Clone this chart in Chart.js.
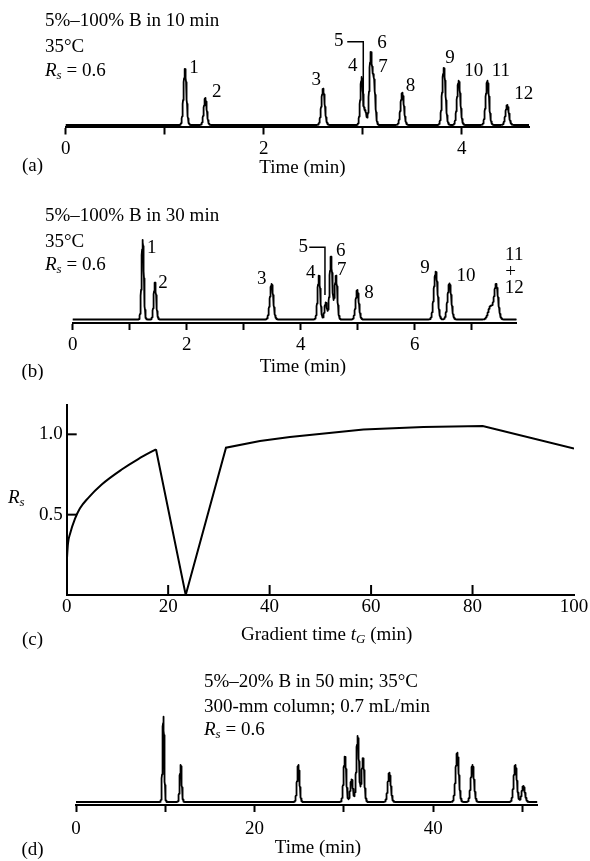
<!DOCTYPE html>
<html>
<head>
<meta charset="utf-8">
<script src="https://cdn.jsdelivr.net/npm/chart.js@4.4.1/dist/chart.umd.min.js"></script>
<style>
  body { margin: 0; background: #fff; width: 590px; height: 861px; position: relative; overflow: hidden; }
  .panel { position: absolute; left: 0; width: 590px; }
</style>
</head>
<body>
<div class="panel" style="top:0"><canvas id="chartA" width="590" height="190"></canvas></div>
<div class="panel" style="top:190px"><canvas id="chartB" width="590" height="190"></canvas></div>
<div class="panel" style="top:390px"><canvas id="chartC" width="590" height="265"></canvas></div>
<div class="panel" style="top:655px"><canvas id="chartD" width="590" height="206"></canvas></div>
<script>
// (a) 5-100% B in 10 min : peak number, retention time (min), height (signal), width sigma (min)
const peakNamesA   = ['1', '2', '3', '4', '5', '6', '7', '8', '9', '10', '11', '12'];
const peakTimesA   = [1.205, 1.41, 2.60, 2.99, 3.028, 3.081, 3.114, 3.40, 3.82, 3.97, 4.26, 4.46];
const peakHeightsA = [56, 27, 36.3, 48, 13, 70, 43, 32.3, 57, 44.3, 44.3, 20];
const peakWidthsA  = [0.015, 0.015, 0.017, 0.014, 0.012, 0.014, 0.014, 0.017, 0.017, 0.017, 0.017, 0.017];
const tickValuesA  = [0, 1, 2, 3, 4];
const tickLabelsA  = ['0', '', '2', '', '4'];

// (b) 5-100% B in 30 min
const peakTimesB   = [1.228, 1.444, 3.49, 4.321, 4.44, 4.532, 4.62, 4.993, 6.37, 6.61, 7.33, 7.43];
const peakHeightsB = [79.5, 36.8, 35.5, 43.8, 17, 62.8, 43.8, 29.5, 47.8, 36.2, 13, 35];
const peakWidthsB  = [0.02, 0.022, 0.03, 0.024, 0.022, 0.024, 0.024, 0.028, 0.033, 0.033, 0.04, 0.035];
const peakNamesB   = ['1', '2', '3', '4', '5', '6', '7', '8', '9', '10', '11', '+', '12'];
const tickValuesB  = [0, 1, 2, 3, 4, 5, 6, 7];
const tickLabelsB  = ['0', '', '2', '', '4', '', '6', ''];

// (c) resolution vs gradient time
const rsCurveTimes  = [0, 0.25, 0.65, 1.64, 2.62, 4.26, 6.9, 10.84, 14.1, 17.6];
const rsCurveValues = [0.2, 0.32, 0.38, 0.475, 0.54, 0.605, 0.688, 0.781, 0.846, 0.907];
const rsLineTimes   = [17.6, 23.46, 31.4, 38.1, 44.0, 58.5, 70.3, 82.0, 100];
const rsLineValues  = [0.907, 0, 0.917, 0.958, 0.983, 1.03, 1.045, 1.052, 0.911];
const rsXTickValues = [0, 20, 40, 60, 80, 100];
const rsXTickLabels = ['0', '20', '40', '60', '80', '100'];
const rsYTickValues = [0.5, 1.0];
const rsYTickLabels = ['0.5', '1.0'];

// (d) 5-20% B in 50 min, 300-mm column
const peakTimesD   = [9.79, 11.73, 24.9, 30.12, 30.87, 31.55, 32.14, 35.09, 42.7, 44.4, 49.2, 50.1];
const peakHeightsD = [85.3, 37, 37, 45.3, 22.7, 66, 43.7, 29.3, 49.3, 37, 37, 16];
const peakWidthsD  = [0.1, 0.11, 0.14, 0.15, 0.15, 0.15, 0.15, 0.17, 0.18, 0.18, 0.18, 0.18];
const tickValuesD  = [0, 10, 20, 30, 40, 50];
const tickLabelsD  = ['0', '', '20', '', '40', ''];

const FONT = '"Liberation Serif", "Times New Roman", serif';
const SIZE = 19, SUB = 13;
const rsParts = [{t: 'R', i: true}, {t: 's', i: true, sub: true}, {t: ' = 0.6'}];

function fontOf(p) {
  return (p.i ? 'italic ' : '') + (p.sub ? SUB : SIZE) + 'px ' + FONT;
}

// text made of plain / italic / subscript pieces
function drawRich(ctx, parts, x, y, align) {
  let w = 0;
  parts.forEach(p => { ctx.font = fontOf(p); w += ctx.measureText(p.t).width; });
  let cx = align === 'center' ? x - w / 2 : x;
  ctx.textAlign = 'left';
  ctx.textBaseline = 'middle';
  parts.forEach(p => {
    ctx.font = fontOf(p);
    ctx.fillText(p.t, cx, y + (p.sub ? 5 : 0));
    cx += ctx.measureText(p.t).width;
  });
}

// chromatogram = sum of the gaussian peaks of the table
function chromTrace(times, heights, widths, tMax, step) {
  const ts = [];
  for (let k = 0; k * step <= tMax; k++) ts.push(k * step);
  ts.push(tMax);
  times.forEach(t => ts.push(t));
  ts.sort((a, b) => a - b);
  return ts.map(t => {
    let s = 0;
    times.forEach((c, i) => {
      const d = (t - c) / widths[i];
      s += heights[i] * Math.exp(-0.5 * d * d);
    });
    return {x: t, y: s};
  });
}

function decor(spec) {
  return {
    id: 'decor',
    afterDraw(chart) {
      const ctx = chart.ctx, xs = chart.scales.x, ys = chart.scales.y;
      ctx.save();
      ctx.fillStyle = '#000';
      ctx.strokeStyle = '#000';
      (spec.texts || []).forEach(tx => drawRich(ctx, tx.parts, tx.x, tx.y, tx.align));
      if (spec.labels) {
        spec.labels.names.forEach((n, i) => {
          drawRich(ctx, [{t: n}], xs.getPixelForValue(spec.labels.times[i]), ys.getPixelForValue(spec.labels.levels[i]), 'center');
        });
      }
      if (spec.bracket) {
        ctx.lineWidth = 1.5;
        ctx.beginPath();
        spec.bracket.forEach((p, i) => {
          const px = xs.getPixelForValue(p[0]), py = ys.getPixelForValue(p[1]);
          if (i === 0) ctx.moveTo(px, py); else ctx.lineTo(px, py);
        });
        ctx.stroke();
      }
      if (spec.innerTicks) {
        ctx.lineWidth = 2;
        const a = chart.chartArea;
        spec.innerTicks.x.forEach(v => {
          const px = xs.getPixelForValue(v);
          ctx.beginPath(); ctx.moveTo(px, a.bottom); ctx.lineTo(px, a.bottom - 10); ctx.stroke();
        });
        spec.innerTicks.y.forEach(v => {
          const py = ys.getPixelForValue(v);
          ctx.beginPath(); ctx.moveTo(a.left, py); ctx.lineTo(a.left + 10, py); ctx.stroke();
        });
      }
      ctx.restore();
    }
  };
}

function chromChart(id, o) {
  return new Chart(document.getElementById(id), {
    type: 'line',
    data: {
      datasets: [{
        data: chromTrace(o.times, o.heights, o.widths, o.xMax, o.step),
        borderColor: '#000', borderWidth: 1.8, borderJoinStyle: 'round', borderCapStyle: 'round',
        pointRadius: 0, tension: 0, fill: false
      }]
    },
    options: {
      responsive: false, animation: false, events: [],
      layout: {padding: o.pad},
      plugins: {legend: {display: false}, tooltip: {enabled: false}},
      scales: {
        x: {
          type: 'linear', min: 0, max: o.xMax,
          afterBuildTicks: s => { s.ticks = o.tickValues.map(v => ({value: v})); },
          afterFit: s => { s.height = 30; },
          ticks: {
            autoSkip: false, maxRotation: 0, padding: o.labelPad, color: '#000',
            font: {family: FONT, size: SIZE},
            callback: (v, i) => o.tickLabels[i]
          },
          grid: {drawOnChartArea: false, tickLength: o.tickLen, tickWidth: 2, color: '#000'},
          border: {color: '#000', width: 2}
        },
        y: {display: false, min: o.yMin, max: o.yMax}
      }
    },
    plugins: [decor(o.decor)]
  });
}

// (a)
chromChart('chartA', {
  times: peakTimesA, heights: peakHeightsA, widths: peakWidthsA,
  xMax: 4.68, step: 0.002, yMin: -1.5, yMax: 90,
  tickValues: tickValuesA, tickLabels: tickLabelsA, tickLen: 8, labelPad: 3,
  pad: {left: 65.7, right: 61, top: 35, bottom: 33.5},
  decor: {
    texts: [
      {parts: [{t: '5%–100% B in 10 min'}], x: 45, y: 21},
      {parts: [{t: '35°C'}], x: 45, y: 47},
      {parts: rsParts, x: 45, y: 71},
      {parts: [{t: 'Time (min)'}], x: 302.5, y: 168, align: 'center'},
      {parts: [{t: '(a)'}], x: 32.5, y: 166, align: 'center'}
    ],
    labels: {
      names: peakNamesA,
      times:  [1.296, 1.525, 2.530, 2.900, 2.759, 3.195, 3.205, 3.483, 3.882, 4.122, 4.395, 4.626],
      levels: [57, 33.3, 45.3, 58.7, 83.8, 81.7, 58.3, 39.2, 66.7, 54, 54, 30.5]
    },
    bracket: [[2.844, 83.3], [3.006, 83.3], [3.006, 18.3]]
  }
});

// (b)
chromChart('chartB', {
  times: peakTimesB, heights: peakHeightsB, widths: peakWidthsB,
  xMax: 7.79, step: 0.003, yMin: -3.5, yMax: 95,
  tickValues: tickValuesB, tickLabels: tickLabelsB, tickLen: 7, labelPad: 4,
  pad: {left: 72.7, right: 73.3, top: 34.5, bottom: 27},
  decor: {
    texts: [
      {parts: [{t: '5%–100% B in 30 min'}], x: 45, y: 26},
      {parts: [{t: '35°C'}], x: 45, y: 51.7},
      {parts: rsParts, x: 45, y: 75},
      {parts: [{t: 'Time (min)'}], x: 303, y: 176.7, align: 'center'},
      {parts: [{t: '(b)'}], x: 32.5, y: 181.7, align: 'center'}
    ],
    labels: {
      names: peakNamesB,
      times:  [1.386, 1.584, 3.316, 4.175, 4.046, 4.702, 4.719, 5.198, 6.181, 6.9, 7.747, 7.684, 7.747],
      levels: [71.5, 36.5, 40.5, 46.5, 72.2, 68.8, 49.5, 26.2, 51.2, 43.5, 64.5, 47.8, 31.2]
    },
    bracket: [[4.151, 72.2], [4.426, 72.2], [4.426, 24.5]]
  }
});

// (c)
new Chart(document.getElementById('chartC'), {
  type: 'line',
  data: {
    datasets: [
      {
        data: rsCurveTimes.map((t, i) => ({x: t, y: rsCurveValues[i]})),
        borderColor: '#000', borderWidth: 2, pointRadius: 0, cubicInterpolationMode: 'monotone', fill: false
      },
      {
        data: rsLineTimes.map((t, i) => ({x: t, y: rsLineValues[i]})),
        borderColor: '#000', borderWidth: 2, pointRadius: 0, tension: 0, fill: false
      }
    ]
  },
  options: {
    responsive: false, animation: false, events: [],
    layout: {padding: {left: 0, right: 16, top: 15, bottom: 30}},
    plugins: {legend: {display: false}, tooltip: {enabled: false}},
    scales: {
      x: {
        type: 'linear', min: 0, max: 100,
        afterBuildTicks: s => { s.ticks = rsXTickValues.map(v => ({value: v})); },
        afterFit: s => { s.height = 30; },
        ticks: {
          autoSkip: false, maxRotation: 0, padding: 1, color: '#000',
          font: {family: FONT, size: SIZE},
          callback: (v, i) => rsXTickLabels[i]
        },
        grid: {display: true, drawOnChartArea: false, drawTicks: false, color: '#000'},
        border: {color: '#000', width: 2}
      },
      y: {
        type: 'linear', min: 0, max: 1.18,
        afterBuildTicks: s => { s.ticks = rsYTickValues.map(v => ({value: v})); },
        afterFit: s => { s.width = 66.7; },
        ticks: {
          padding: 4, color: '#000',
          font: {family: FONT, size: SIZE},
          callback: (v, i) => rsYTickLabels[i]
        },
        grid: {display: true, drawOnChartArea: false, drawTicks: false, color: '#000'},
        border: {color: '#000', width: 2}
      }
    }
  },
  plugins: [decor({
    texts: [
      {parts: [{t: 'R', i: true}, {t: 's', i: true, sub: true}], x: 8, y: 108},
      {parts: [{t: 'Gradient time '}, {t: 't', i: true}, {t: 'G', i: true, sub: true}, {t: ' (min)'}], x: 326.7, y: 245, align: 'center'},
      {parts: [{t: '(c)'}], x: 32.5, y: 250, align: 'center'}
    ],
    innerTicks: {x: [20, 40, 60, 80], y: rsYTickValues}
  })]
});

// (d)
chromChart('chartD', {
  times: peakTimesD, heights: peakHeightsD, widths: peakWidthsD,
  xMax: 51.66, step: 0.01, yMin: -3, yMax: 90,
  tickValues: tickValuesD, tickLabels: tickLabelsD, tickLen: 7, labelPad: 6,
  pad: {left: 76, right: 52.7, top: 57, bottom: 26},
  decor: {
    texts: [
      {parts: [{t: '5%–20% B in 50 min; 35°C'}], x: 204, y: 26.7},
      {parts: [{t: '300-mm column; 0.7 mL/min'}], x: 204, y: 51.7},
      {parts: rsParts, x: 204, y: 75},
      {parts: [{t: 'Time (min)'}], x: 318, y: 192.7, align: 'center'},
      {parts: [{t: '(d)'}], x: 32.5, y: 195, align: 'center'}
    ]
  }
});
</script>
</body>
</html>
